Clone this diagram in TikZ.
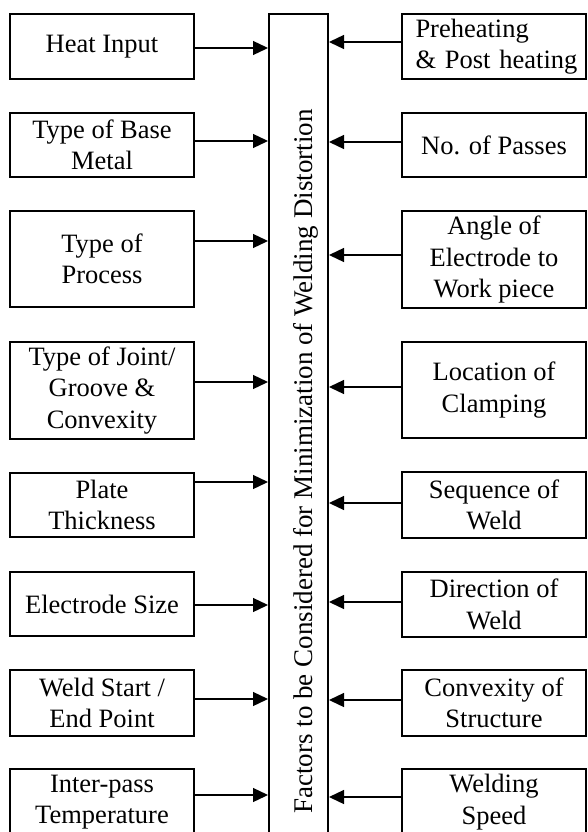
\documentclass[tikz,border=0pt]{standalone}
\usepackage{fontspec}
\setmainfont{Liberation Serif}
\usetikzlibrary{arrows.meta}
\begin{document}
\begin{tikzpicture}[x=1pt,y=-1pt,
  fbox/.style={draw, line width=2pt, minimum width=184pt, inner sep=0pt, align=center,
    font=\fontsize{26.5}{31.5}\selectfont},
  arr/.style={line width=1.3pt, -{Triangle[length=15pt,width=14pt]}},
  ttl/.style={rotate=90, inner sep=0pt, font=\fontsize{27}{32}\selectfont}]
\useasboundingbox (0,0) rectangle (587,832);
\clip (0,0) rectangle (587,832);
% centre box
\node[draw, line width=2pt, minimum width=59pt, minimum height=850pt, inner sep=0pt] (C) at (298.5,439) {};
\node[ttl, anchor=base] (T) at (312,461.5) {Factors to be Considered for Minimization of Welding Distortion};
% left boxes
\node[fbox, minimum height=65pt] (L1) at (102,46.5) {Heat Input};
\node[fbox, minimum height=64pt] (L2) at (102,145) {Type of Base\\Metal};
\node[fbox, minimum height=96pt] (L3) at (102,259) {Type of\\Process};
\node[fbox, minimum height=97pt] (L4) at (102,390.5) {Type of Joint/\\Groove \&\\Convexity};
\node[fbox, minimum height=64pt] (L5) at (102,505) {Plate\\Thickness};
\node[fbox, minimum height=64pt] (L6) at (102,604) {Electrode Size};
\node[fbox, minimum height=66pt] (L7) at (102,703) {Weld Start /\\End Point};
\node[fbox, minimum height=66pt] (L8) at (102,802) {Inter-pass\\Temperature};
% right boxes
\node[fbox, minimum height=65pt, text width=157pt, inner xsep=13.5pt, align=left] (R1) at (494,46.5) {\mbox{Preheating}\\\mbox{\& Post heating}};
\node[fbox, minimum height=64pt] (R2) at (494,145) {No. of Passes};
\node[fbox, minimum height=97pt] (R3) at (494,259.5) {Angle of\\Electrode to\\Work piece};
\node[fbox, minimum height=96pt] (R4) at (494,390) {Location of\\Clamping};
\node[fbox, minimum height=66pt] (R5) at (494,505) {Sequence of\\Weld};
\node[fbox, minimum height=65pt] (R6) at (494,604.5) {Direction of\\Weld};
\node[fbox, minimum height=66pt] (R7) at (494,703) {Convexity of\\Structure};
\node[fbox, minimum height=66pt] (R8) at (494,802) {Welding\\Speed};
% arrows left
\draw[arr] (L1.east |- 0,48) -- (C.west |- 0,48);
\draw[arr] (L2.east |- 0,141) -- (C.west |- 0,141);
\draw[arr] (L3.east |- 0,241) -- (C.west |- 0,241);
\draw[arr] (L4.east |- 0,382) -- (C.west |- 0,382);
\draw[arr] (L5.east |- 0,482) -- (C.west |- 0,482);
\draw[arr] (L6.east |- 0,605) -- (C.west |- 0,605);
\draw[arr] (L7.east |- 0,699) -- (C.west |- 0,699);
\draw[arr] (L8.east |- 0,795) -- (C.west |- 0,795);
% arrows right
\draw[arr] (R1.west |- 0,42) -- (C.east |- 0,42);
\draw[arr] (R2.west |- 0,142) -- (C.east |- 0,142);
\draw[arr] (R3.west |- 0,255) -- (C.east |- 0,255);
\draw[arr] (R4.west |- 0,387) -- (C.east |- 0,387);
\draw[arr] (R5.west |- 0,503) -- (C.east |- 0,503);
\draw[arr] (R6.west |- 0,602) -- (C.east |- 0,602);
\draw[arr] (R7.west |- 0,700) -- (C.east |- 0,700);
\draw[arr] (R8.west |- 0,797) -- (C.east |- 0,797);
\end{tikzpicture}
\end{document}
